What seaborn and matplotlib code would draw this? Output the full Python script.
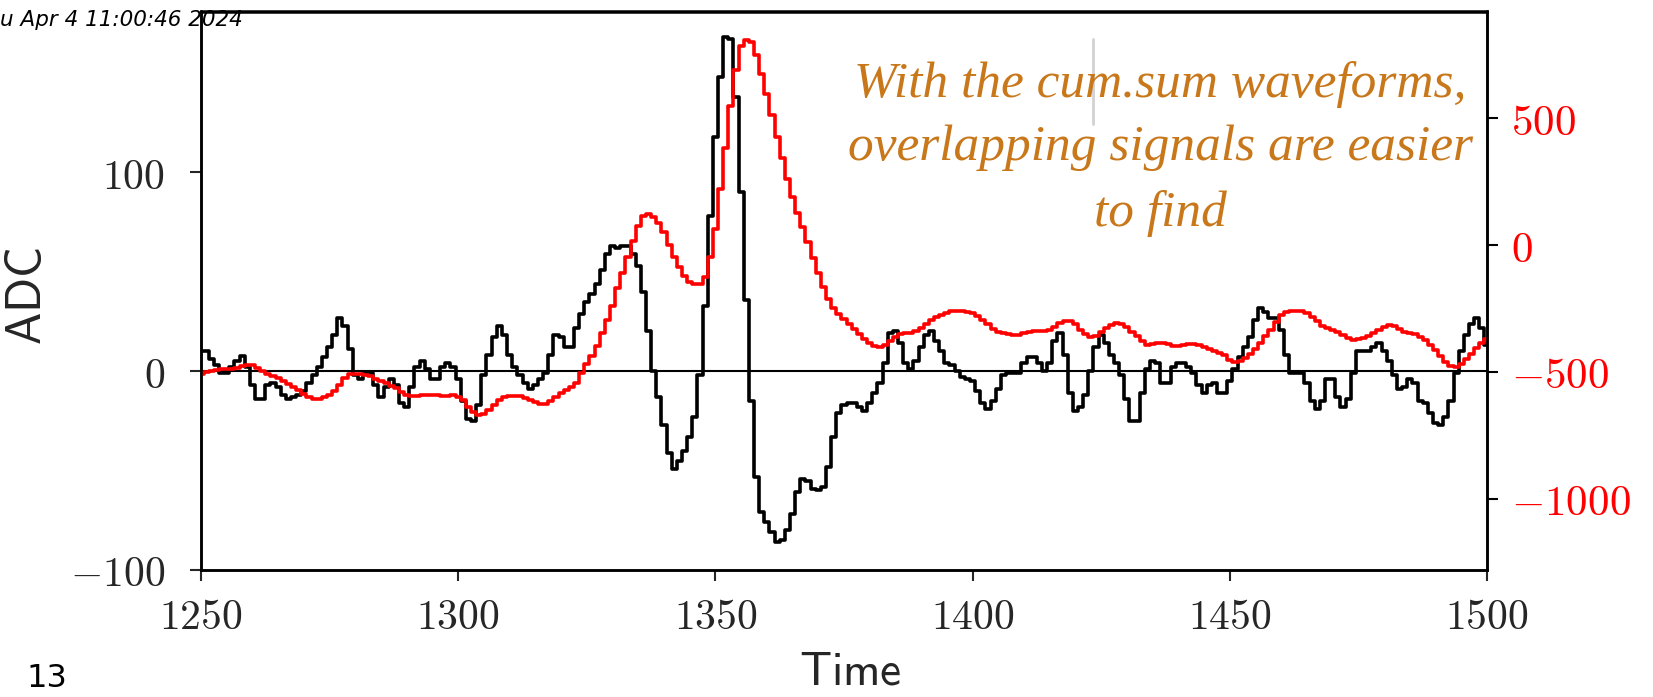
import numpy as np
import pandas as pd
import matplotlib
matplotlib.use("Agg")
import matplotlib.pyplot as plt
import seaborn as sns
from matplotlib.ticker import FuncFormatter, FixedLocator
from matplotlib.lines import Line2D

# ---------------- data ----------------
time_start, time_end = 1250, 1500

adc = [
    10, 10, 6, 3, -1, -1, 2, 5, 7.5, 2,
    -7, -14, -14, -7, -6, -8, -12, -14, -13, -12,
    -10, -6, -2, 2, 7, 12, 18, 27, 23, 11,
    -2, -4, -1, -1, -7, -13, -8, -4, -7, -16,
    -18, -8, 2, 5, 1, -4, -4, 2, 4, 2,
    -4, -15, -24, -25, -17, -2, 8, 17, 23, 18,
    8, 2, -2, -6, -9, -7, -4, -1, 8, 18,
    17, 12, 12, 22, 29, 35, 39, 44, 51, 59,
    63, 62, 63, 63, 59, 53, 40, 20, 0, -13,
    -27, -41, -49, -45, -40, -33, -23, -2, 33, 78,
    118, 148, 168, 167, 138, 90, 36, -15, -53, -71,
    -76, -81, -86, -85, -80, -72, -61, -54, -55, -59,
    -60, -58, -48, -33, -21, -17, -16, -16, -18, -20,
    -16, -11, -6, 4, 19, 20, 14, 4, 1, 5,
    12, 18, 20, 15, 10, 4, 3, 0, -3, -4,
    -5, -10, -16, -19, -15, -9, -2, -1, -1, -1,
    4, 7, 7, 4, 0, 4, 15, 19, 8, -11,
    -20, -18, -12, 0, 12, 18, 14, 8, 4, -2,
    -14, -25, -25, -11, 1, 5, 4, -6, -6, 2,
    4, 4, 2, -1, -7, -11, -7, -6, -11, -11,
    -5, 1, 7, 12, 17, 26, 32, 30, 27, 27,
    21, 8, -1, -1, -1, -6, -15, -19, -15, -4,
    -4, -13, -18, -14, -1, 10, 10, 10, 12, 14,
    10, 5, -2, -9, -8, -4, -6, -15, -16, -21,
    -26, -27, -23, -15, -1, 10, 18, 24, 27, 22,
    13,
]

cumsum_wf = [
    -510, -500, -495, -492, -490, -488, -487, -484, -478, -472,
    -474, -485, -498, -510, -516, -524, -535, -547, -560, -573,
    -587, -600, -606, -606, -598, -590, -575, -552, -525, -510,
    -507, -508, -512, -518, -527, -535, -545, -555, -565, -578,
    -590, -594, -594, -592, -590, -590, -592, -596, -595, -593,
    -598, -610, -640, -660, -670, -666, -650, -630, -610, -600,
    -595, -594, -596, -604, -610, -618, -626, -628, -615, -600,
    -585, -570, -560, -545, -505, -470, -436, -398, -348, -295,
    -240, -170, -108, -48, 15, 75, 115, 123, 112, 88,
    50, 0, -45, -85, -122, -145, -152, -152, -125, -45,
    65, 220, 384, 548, 690, 785, 811, 800, 750, 675,
    598, 512, 427, 342, 262, 190, 125, 70, 12, -52,
    -108, -165, -213, -247, -272, -292, -312, -332, -352, -370,
    -385, -397, -403, -395, -378, -362, -352, -348, -345, -338,
    -326, -312, -297, -284, -274, -266, -261, -259, -260, -262,
    -267, -280, -297, -313, -329, -342, -347, -352, -354, -353,
    -347, -341, -338, -337, -337, -333, -324, -308, -298, -300,
    -313, -333, -352, -362, -358, -341, -327, -316, -308, -311,
    -324, -341, -360, -380, -394, -390, -387, -387, -392, -398,
    -398, -395, -392, -390, -393, -403, -411, -418, -426, -435,
    -455, -460, -457, -445, -428, -408, -385, -360, -335, -302,
    -276, -264, -261, -260, -261, -267, -284, -300, -318, -326,
    -333, -341, -354, -368, -376, -372, -366, -358, -346, -334,
    -324, -316, -320, -330, -341, -346, -352, -362, -375, -395,
    -415, -437, -460, -476, -481, -470, -450, -428, -405, -386,
    -372,
]

x_ticks = [1250, 1300, 1350, 1400, 1450, 1500]
left_ticks = [-100, 0, 100]
right_ticks = [-1000, -500, 0, 500]
x_label = "Time"
y_label = "ADC"
note_lines = ["With the cum.sum waveforms,", "overlapping signals are easier", "to find"]
stamp_text = "u Apr 4 11:00:46 2024"
page_text = "13"

time = np.arange(time_start, time_end + 1)
assert len(adc) == len(time) and len(cumsum_wf) == len(time)
df = pd.DataFrame({"Time": time, "ADC": adc, "CumSum": cumsum_wf})

# ---------------- style ----------------
sns.set_style("ticks")
plt.rcParams["mathtext.fontset"] = "cm"
plt.rcParams["font.family"] = ["DejaVu Sans"]

W, H = 1653, 697
fig = plt.figure(figsize=(W / 100, H / 100), dpi=100)
ax_l, ax_r, ax_b, ax_t = 201 / W, 1487 / W, 1 - 570 / H, 1 - 11.5 / H
ax = fig.add_axes([ax_l, ax_b, ax_r - ax_l, ax_t - ax_b])

sns.lineplot(data=df, x="Time", y="ADC", ax=ax, color="black", lw=2.6,
             drawstyle="steps-mid", estimator=None, sort=False)
ax.axhline(0, color="black", lw=1.5, zorder=1)

ax2 = ax.twinx()
sns.lineplot(data=df, x="Time", y="CumSum", ax=ax2, color="#ff0000", lw=2.6,
             drawstyle="steps-mid", estimator=None, sort=False)

ax.set_xlim(time_start, time_end)
ax.set_ylim(-100, 181)
ax2.set_ylim(-1282, 922)

math_fmt = FuncFormatter(lambda v, p: r"$%d$" % int(round(v)))
ax.xaxis.set_major_locator(FixedLocator(x_ticks))
ax.yaxis.set_major_locator(FixedLocator(left_ticks))
ax2.yaxis.set_major_locator(FixedLocator(right_ticks))
for a in (ax.xaxis, ax.yaxis, ax2.yaxis):
    a.set_major_formatter(math_fmt)
ax.minorticks_off()
ax2.minorticks_off()

tick_fs = 30
ax.tick_params(axis="x", labelsize=tick_fs, length=8, width=1.5, pad=11, direction="out")
ax.tick_params(axis="y", labelsize=tick_fs, length=8, width=1.5, pad=18, direction="out")
ax2.tick_params(axis="y", labelsize=31, length=8, width=1.5, pad=9, direction="out",
                labelcolor="#ff0000", color="black")

for a in (ax, ax2):
    for s in a.spines.values():
        s.set_linewidth(1.8)
        s.set_color("black")
        s.set_visible(True)

ax.set_xlabel(r"$\mathsf{%s}$" % x_label, fontsize=34)
ax.set_ylabel(r"$\mathsf{%s}$" % y_label, fontsize=35)
ax2.set_ylabel("")
ax.xaxis.set_label_coords(0.505, -0.143)
ax.yaxis.set_label_coords(-0.117, 0.49)

# annotation in slide
note_color = "#C8781A"
base_y = [97, 160, 226]
for line, by in zip(note_lines, base_y):
    fig.text(1160 / W, 1 - by / H, line, color=note_color, fontsize=37,
             family=["Liberation Serif", "DejaVu Serif"], style="italic",
             ha="center", va="baseline")

# text cursor artefact
fig.add_artist(Line2D([1093 / W, 1093 / W], [1 - 39 / H, 1 - 124 / H],
                      transform=fig.transFigure, color="#d2d2d2", lw=2))

# time stamp and page number
fig.text(0.0, 1 - 26 / H, stamp_text, fontsize=15.5, style="italic",
         family=["DejaVu Sans"], ha="left", va="baseline", color="black")
fig.text(26 / W, 1 - 694 / H, page_text, fontsize=23, family=["DejaVu Sans"],
         ha="left", va="bottom", color="black")

fig.savefig("out.png", dpi=100)
